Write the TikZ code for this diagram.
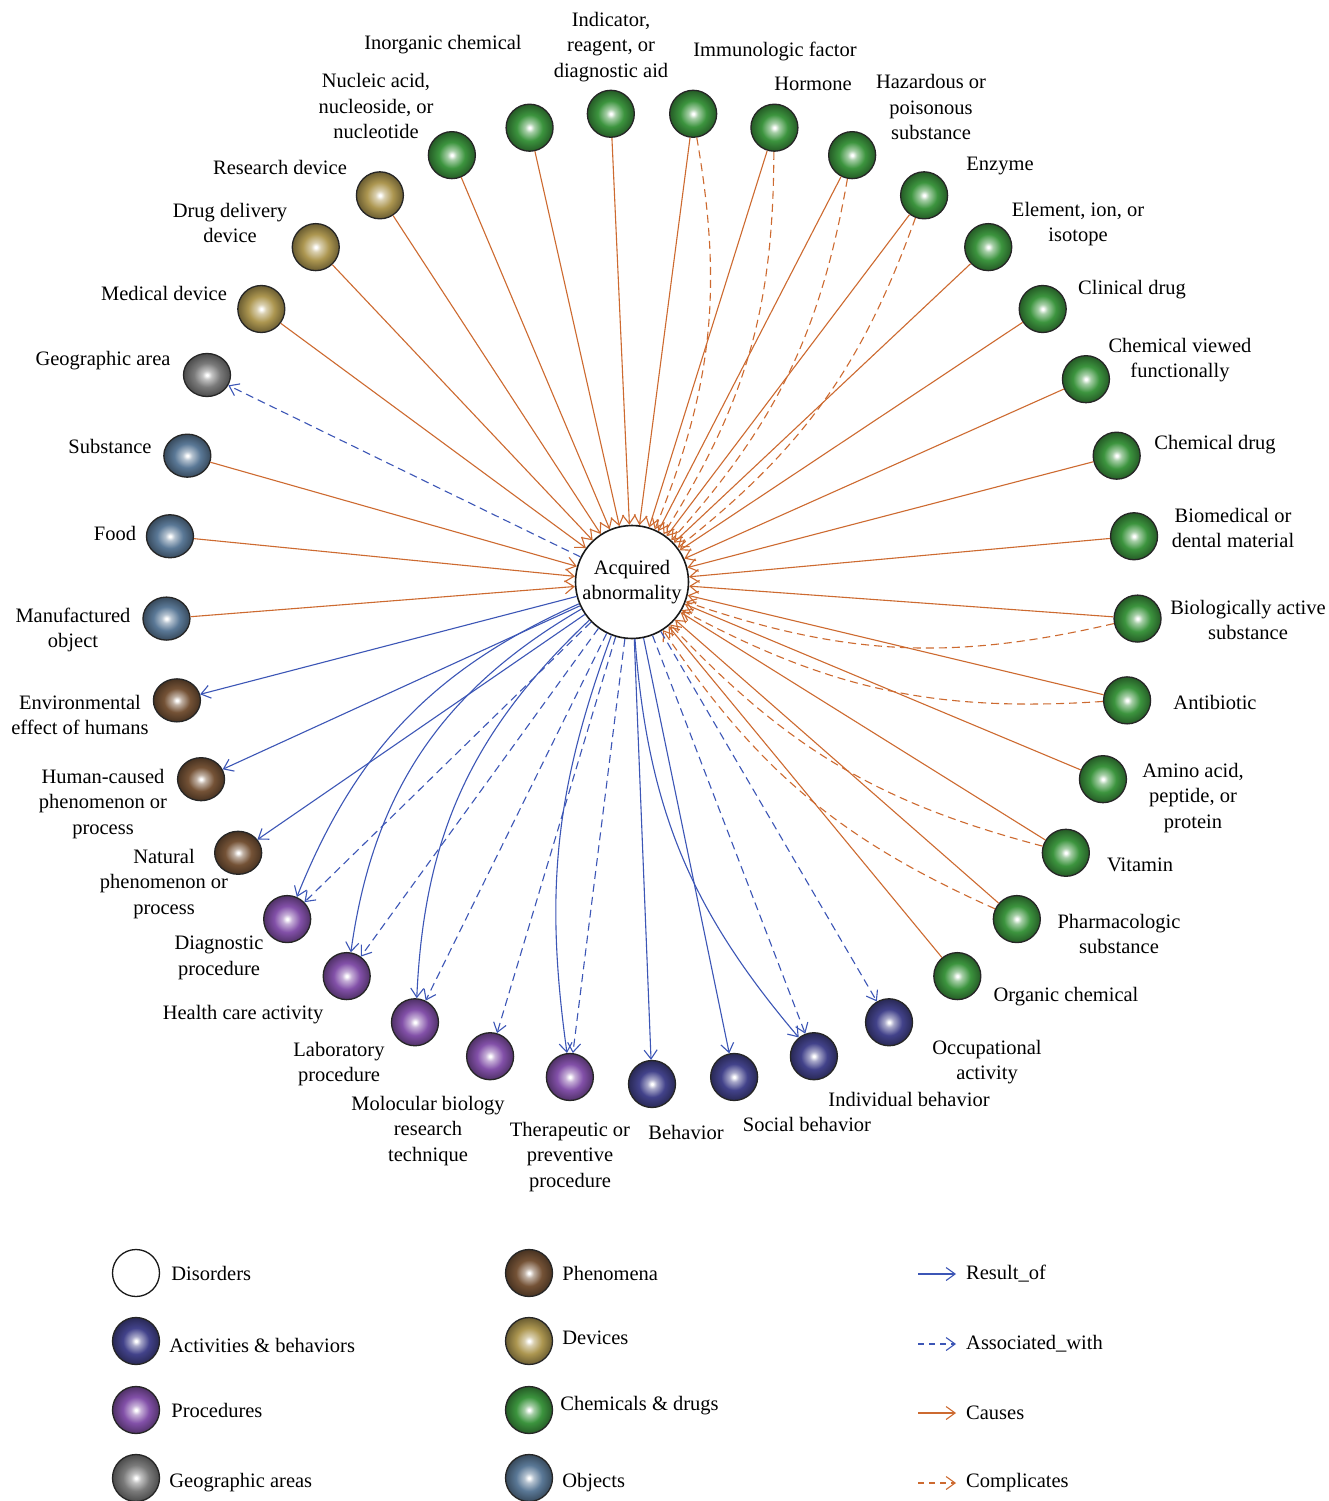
\documentclass[tikz,border=0pt]{standalone}
\usepackage{fontspec}
\setmainfont{Liberation Serif}
\usetikzlibrary{arrows.meta,shapes.geometric,positioning}

\definecolor{causeorange}{RGB}{205,106,48}
\definecolor{resultblue}{RGB}{60,86,182}
\definecolor{chemgreen}{RGB}{60,148,62}
\definecolor{actnavy}{RGB}{66,66,138}
\definecolor{procpurple}{RGB}{130,80,168}
\definecolor{geogray}{RGB}{122,122,122}
\definecolor{objblue}{RGB}{90,120,150}
\definecolor{phenbrown}{RGB}{116,82,54}
\definecolor{devtan}{RGB}{172,150,80}

\newcommand{\ballshading}[2]{%
  \pgfdeclareradialshading{#1}{\pgfpointorigin}{color(0bp)=(white); color(1bp)=(white);
    color(5bp)=(#2!45!white); color(14bp)=(#2); color(25bp)=(#2!62!black); color(50bp)=(#2!62!black)}}
\ballshading{ballchem}{chemgreen}
\ballshading{ballact}{actnavy}
\ballshading{ballproc}{procpurple}
\ballshading{ballgeo}{geogray}
\ballshading{ballobj}{objblue}
\ballshading{ballphen}{phenbrown}
\ballshading{balldev}{devtan}

\tikzset{
  ball/.style={circle, shade, draw=black!85, line width=1.3pt, minimum size=47pt, inner sep=0pt},
  flatball/.style={ellipse, shade, draw=black!85, line width=1.3pt, minimum width=47pt, minimum height=43pt, inner sep=0pt},
  chem/.style={ball, shading=ballchem},
  act/.style={ball, shading=ballact},
  proc/.style={ball, shading=ballproc},
  dev/.style={ball, shading=balldev},
  geo/.style={flatball, shading=ballgeo},
  obj/.style={flatball, shading=ballobj},
  phen/.style={flatball, shading=ballphen},
  lbl/.style={align=center, inner sep=0pt, font=\fontsize{20.5}{25.3}\selectfont},
  tip/.style={-{Straight Barb[length=9pt,width=13pt,line width=1.1pt]}},
  causes/.style={causeorange, line width=1.1pt, tip},
  complicates/.style={causes, dash pattern=on 8pt off 5pt},
  result/.style={resultblue, line width=1.1pt, tip},
  associated/.style={result, dash pattern=on 8pt off 5pt}
}

\begin{document}
\begin{tikzpicture}[x=1pt, y=1pt]
\useasboundingbox (0,0) rectangle (1329,-1501);
\fill[white] (0,0) rectangle (1329,-1501);

% disorder in the middle
\node[lbl, circle, draw=black!90, line width=1.6pt, fill=white, minimum size=113pt] (acq) at (632,-582) {Acquired\\abnormality};

% ring of semantic types
\begin{scope}[shift={(652,-598)}]
\node[act] (behav) at (270.00:486) {};
\node[act] (socbeh) at (279.73:486) {};
\node[act] (indbeh) at (289.46:486) {};
\node[act] (occact) at (299.19:486) {};
\node[chem] (orgchem) at (308.92:486) {};
\node[chem] (pharm) at (318.65:486) {};
\node[chem] (vitam) at (328.38:486) {};
\node[chem] (amino) at (338.11:486) {};
\node[chem] (antib) at (347.84:486) {};
\node[chem] (bioact) at (357.57:486) {};
\node[chem] (biomed) at (7.30:486) {};
\node[chem] (chemdrug) at (17.03:486) {};
\node[chem] (chemfun) at (26.76:486) {};
\node[chem] (clindrug) at (36.49:486) {};
\node[chem] (element) at (46.22:486) {};
\node[chem] (enzyme) at (55.95:486) {};
\node[chem] (hazard) at (65.68:486) {};
\node[chem] (hormone) at (75.41:486) {};
\node[chem] (immuno) at (85.14:486) {};
\node[chem] (indic) at (94.86:486) {};
\node[chem] (inorg) at (104.59:486) {};
\node[chem] (nucleic) at (114.32:486) {};
\node[dev] (resdev) at (124.05:486) {};
\node[dev] (drugdev) at (133.78:486) {};
\node[dev] (meddev) at (143.51:486) {};
\node[obj] (subst) at (162.97:486) {};
\node[obj] (food) at (172.70:486) {};
\node[obj] (manuf) at (182.43:486) {};
\node[phen] (envir) at (192.16:486) {};
\node[phen] (humcaus) at (201.89:486) {};
\node[phen] (natur) at (211.62:486) {};
\node[proc] (diagn) at (221.35:486) {};
\node[proc] (health) at (231.08:486) {};
\node[proc] (labproc) at (240.81:486) {};
\node[proc] (molbio) at (250.54:486) {};
\node[proc] (therap) at (260.27:486) {};
\end{scope}
\node[geo] (geoarea) at (207,-375) {};

% labels
\node[lbl] (lbinorg) at (443,-45) {Inorganic chemical};
\node[lbl] (lbnucleic) at (376,-106) {Nucleic acid,\\nucleoside, or\\nucleotide};
\node[lbl] (lbindic) at (611,-47) {Indicator,\\reagent, or\\diagnostic aid};
\node[lbl] (lbimmuno) at (775,-51) {Immunologic factor};
\node[lbl] (lbhormone) at (813,-84) {Hormone};
\node[lbl] (lbhazard) at (931,-107) {Hazardous or\\poisonous\\substance};
\node[lbl] (lbenzyme) at (1000,-166) {Enzyme};
\node[lbl] (lbelement) at (1078,-224) {Element, ion, or\\isotope};
\node[lbl] (lbclindrug) at (1132,-290) {Clinical drug};
\node[lbl] (lbchemfun) at (1180,-360) {Chemical viewed\\functionally};
\node[lbl] (lbchemdrug) at (1215,-445) {Chemical drug};
\node[lbl] (lbbiomed) at (1233,-528) {Biomedical or\\dental material};
\node[lbl] (lbbioact) at (1248,-620) {Biologically active\\substance};
\node[lbl] (lbantib) at (1215,-702) {Antibiotic};
\node[lbl] (lbamino) at (1193,-798) {Amino acid,\\peptide, or\\protein};
\node[lbl] (lbvitam) at (1140,-865) {Vitamin};
\node[lbl] (lbpharm) at (1119,-934) {Pharmacologic\\substance};
\node[lbl] (lborgchem) at (1066,-997) {Organic chemical};
\node[lbl] (lboccact) at (987,-1062) {Occupational\\activity};
\node[lbl] (lbindbeh) at (909,-1099) {Individual behavior};
\node[lbl] (lbsocbeh) at (807,-1124) {Social behavior};
\node[lbl] (lbbehav) at (686,-1132) {Behavior};
\node[lbl] (lbtherap) at (570,-1157) {Therapeutic or\\preventive\\procedure};
\node[lbl] (lbmolbio) at (428,-1131) {Molocular biology\\research\\technique};
\node[lbl] (lblabproc) at (339,-1064) {Laboratory\\procedure};
\node[lbl] (lbhealth) at (243,-1015) {Health care activity};
\node[lbl] (lbdiagn) at (219,-958) {Diagnostic\\procedure};
\node[lbl] (lbnatur) at (164,-884) {Natural\\phenomenon or\\process};
\node[lbl] (lbhumcaus) at (103,-804) {Human-caused\\phenomenon or\\process};
\node[lbl] (lbenvir) at (80,-715) {Environmental\\effect of humans};
\node[lbl] (lbmanuf) at (73,-630) {Manufactured\\object};
\node[lbl] (lbfood) at (115,-533) {Food};
\node[lbl] (lbsubst) at (110,-446) {Substance};
\node[lbl] (lbgeoarea) at (103,-361) {Geographic area};
\node[lbl] (lbmeddev) at (164,-293) {Medical device};
\node[lbl] (lbdrugdev) at (230,-223) {Drug delivery\\device};
\node[lbl] (lbresdev) at (280,-167) {Research device};

% causes
\draw[causes] (orgchem) -- (acq);
\draw[causes] (pharm) -- (acq);
\draw[causes] (vitam) -- (acq);
\draw[causes] (amino) -- (acq);
\draw[causes] (antib) -- (acq);
\draw[causes] (bioact) -- (acq);
\draw[causes] (biomed) -- (acq);
\draw[causes] (chemdrug) -- (acq);
\draw[causes] (chemfun) -- (acq);
\draw[causes] (clindrug) -- (acq);
\draw[causes] (element) -- (acq);
\draw[causes] (enzyme) -- (acq);
\draw[causes] (hazard) -- (acq);
\draw[causes] (hormone) -- (acq);
\draw[causes] (immuno) -- (acq);
\draw[causes] (indic) -- (acq);
\draw[causes] (inorg) -- (acq);
\draw[causes] (nucleic) -- (acq);
\draw[causes] (resdev) -- (acq);
\draw[causes] (drugdev) -- (acq);
\draw[causes] (meddev) -- (acq);
\draw[causes] (subst) -- (acq);
\draw[causes] (food) -- (acq);
\draw[causes] (manuf) -- (acq);

% complicates
\draw[complicates] (pharm) to[bend left=16] (acq);
\draw[complicates] (vitam) to[bend left=16] (acq);
\draw[complicates] (antib) to[bend left=16] (acq);
\draw[complicates] (bioact) to[bend left=16] (acq);
\draw[complicates] (enzyme) to[bend left=16] (acq);
\draw[complicates] (hazard) to[bend left=16] (acq);
\draw[complicates] (hormone) to[bend left=16] (acq);
\draw[complicates] (immuno) to[bend left=16] (acq);

% result of
\draw[result] (acq) -- (envir);
\draw[result] (acq) -- (humcaus);
\draw[result] (acq) -- (natur);
\draw[result] (acq) -- (behav);
\draw[result] (acq) -- (socbeh);
\draw[result] (acq) to[bend right=22] (diagn);
\draw[result] (acq) to[bend right=26] (health);
\draw[result] (acq) to[bend right=22] (labproc);
\draw[result] (acq) to[bend right=14] (therap);
\draw[result] (acq) to[bend right=18] (indbeh);

% associated with
\draw[associated] (acq) -- (geoarea);
\draw[associated] (acq) -- (diagn);
\draw[associated] (acq) -- (health);
\draw[associated] (acq) -- (labproc);
\draw[associated] (acq) -- (molbio);
\draw[associated] (acq) -- (therap);
\draw[associated] (acq) -- (indbeh);
\draw[associated] (acq) -- (occact);

% legend
\node[circle, draw=black!90, line width=1.3pt, fill=white, minimum size=47pt] (lgdis) at (136,-1273) {};
\node[act] (lgact) at (136,-1341) {};
\node[proc] (lgproc) at (136,-1410) {};
\node[geo, minimum height=47pt] (lggeo) at (136,-1478) {};
\node[phen, minimum height=47pt] (lgphen) at (529,-1273) {};
\node[dev] (lgdev) at (529,-1341) {};
\node[chem] (lgchem) at (529,-1410) {};
\node[obj, minimum height=47pt] (lgobj) at (529,-1478) {};
\node[lbl, right=11pt of lgdis] (lbdis) {Disorders};
\node[lbl, right=9pt of lgact, yshift=-4pt] (lbact) {Activities \& behaviors};
\node[lbl, right=11pt of lgproc] (lbproc) {Procedures};
\node[lbl, right=9pt of lggeo, yshift=-5pt] (lbgeo) {Geographic areas};
\node[lbl, right=9pt of lgphen] (lbphen) {Phenomena};
\node[lbl, right=9pt of lgdev, yshift=3pt] (lbdev) {Devices};
\node[lbl, right=7pt of lgchem, yshift=4pt] (lbchem) {Chemicals \& drugs};
\node[lbl, right=9pt of lgobj, yshift=-5pt] (lbobj) {Objects};

\coordinate (lgra) at (918,-1274);
\coordinate (lgrb) at (956,-1274);
\coordinate (lgaa) at (918,-1344);
\coordinate (lgab) at (956,-1344);
\coordinate (lgca) at (918,-1413);
\coordinate (lgcb) at (956,-1413);
\coordinate (lgka) at (918,-1483);
\coordinate (lgkb) at (956,-1483);
\draw[result] (lgra) -- (lgrb);
\draw[associated, dash pattern=on 6pt off 5pt] (lgaa) -- (lgab);
\draw[causes] (lgca) -- (lgcb);
\draw[complicates, dash pattern=on 6pt off 5pt] (lgka) -- (lgkb);
\node[lbl, right=10pt of lgrb] (lbres) {Result\_of};
\node[lbl, right=10pt of lgab] (lbass) {Associated\_with};
\node[lbl, right=10pt of lgcb] (lbcau) {Causes};
\node[lbl, right=10pt of lgkb] (lbcom) {Complicates};
\end{tikzpicture}
\end{document}
